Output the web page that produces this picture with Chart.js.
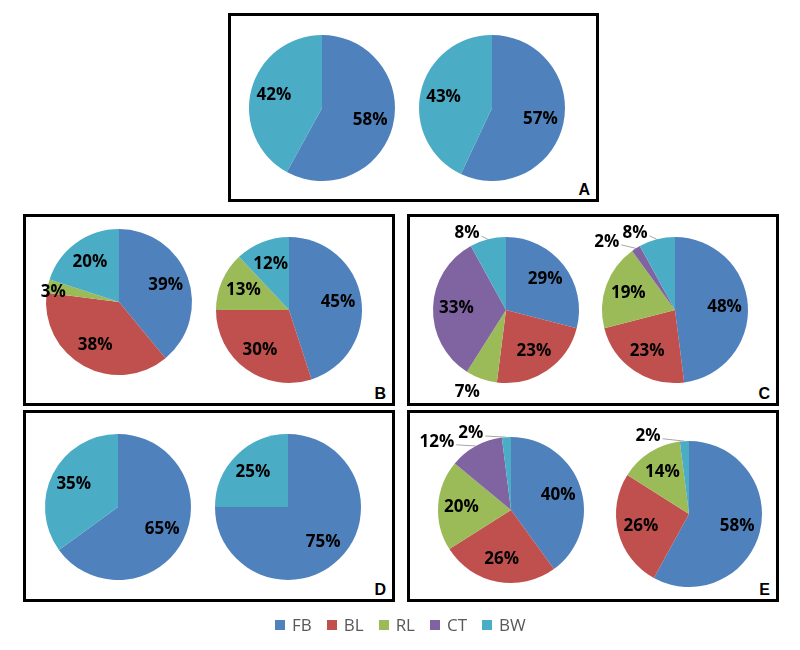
<!DOCTYPE html>
<html>
<head>
<meta charset="utf-8">
<script src="https://cdn.jsdelivr.net/npm/chart.js@4.4.1/dist/chart.umd.min.js"></script>
<style>
  body { margin: 0; background: #fff; width: 800px; height: 650px; position: relative; overflow: hidden; font-family: "Open Sans", sans-serif; }
  .box { position: absolute; border: 3px solid #000; box-sizing: border-box; }
  .letter { position: absolute; right: 6px; bottom: 0px; font: bold 16px "Liberation Sans", Arial, sans-serif; color: #000; }
  .pie { position: absolute; width: 200px; height: 190px; }
  #legend { position: absolute; left: 275px; top: 613px; display: flex; align-items: center; font-size: 17px; color: #595959; }
  #legend span.sq { display: inline-block; width: 10px; height: 10px; margin-right: 7px; }
  #legend .item { display: flex; align-items: center; margin-right: 15px; }
</style>
</head>
<body>

<script>
// categories, clockwise from 12 o'clock
const categories = ['FB', 'BL', 'RL', 'CT', 'BW'];
const colors = ['#4F81BD', '#C0504D', '#9BBB59', '#8064A2', '#4BACC6'];

// percentages per pie (FB, BL, RL, CT, BW)
const A1 = [58, 0, 0, 0, 42];
const A2 = [57, 0, 0, 0, 43];
const B1 = [39, 38, 3, 0, 20];
const B2 = [45, 30, 13, 0, 12];
const C1 = [29, 23, 7, 33, 8];
const C2 = [48, 23, 19, 2, 8];
const D1 = [65, 0, 0, 0, 35];
const D2 = [75, 0, 0, 0, 25];
const E1 = [40, 26, 20, 12, 2];
const E2 = [58, 26, 14, 0, 2];

// label placement tweaks: slice index -> [radius factor, angle shift deg, leader line]
const labelPlace = {
  B1: { 2: [0.91, -4, false] },
  C1: { 2: [1.24, 5.6, false], 4: [1.18, -12.5, true] },
  C2: { 3: [1.32, -12.6, true], 4: [1.19, -13, true] },
  E1: { 3: [1.38, -18.6, true], 4: [1.19, -24, true] },
  E2: { 4: [1.21, -24, true] }
};

// boxes and pie centres on the page
const boxes = [
  ['A', 228, 13, 371, 189],
  ['B', 23, 214, 372, 192],
  ['C', 407, 214, 372, 192],
  ['D', 23, 410, 372, 192],
  ['E', 407, 410, 372, 192]
];
const pies = [
  ['A1', A1, 322, 108], ['A2', A2, 492, 108],
  ['B1', B1, 119, 302], ['B2', B2, 289, 310],
  ['C1', C1, 506, 310], ['C2', C2, 675, 310],
  ['D1', D1, 118, 507], ['D2', D2, 288, 507],
  ['E1', E1, 511, 510], ['E2', E2, 689, 514]
];

const pctLabels = {
  id: 'pctLabels',
  afterDatasetsDraw(chart) {
    const ctx = chart.ctx;
    const meta = chart.getDatasetMeta(0);
    const vals = chart.data.datasets[0].data;
    const place = chart.options.plugins.pctLabels.place || {};
    ctx.save();
    ctx.font = 'bold 17px "Open Sans"';
    ctx.textAlign = 'center';
    ctx.textBaseline = 'middle';
    meta.data.forEach((arc, i) => {
      if (!vals[i]) return;
      const p = arc.getProps(['x', 'y', 'startAngle', 'endAngle', 'outerRadius'], true);
      const mid = (p.startAngle + p.endAngle) / 2;
      let f = 0.68, shift = 0, line = false;
      if (place[i]) [f, shift, line] = place[i];
      const a = mid + shift * Math.PI / 180;
      const lx = p.x + Math.cos(a) * p.outerRadius * f;
      const ly = p.y + Math.sin(a) * p.outerRadius * f;
      const text = vals[i] + '%';
      if (line) {
        const w = ctx.measureText(text).width;
        ctx.strokeStyle = '#a6a6a6';
        ctx.lineWidth = 1;
        ctx.beginPath();
        ctx.moveTo(lx + w / 2 + 2, ly + 3);
        ctx.lineTo(p.x + Math.cos(mid) * p.outerRadius, p.y + Math.sin(mid) * p.outerRadius);
        ctx.stroke();
      }
      ctx.fillStyle = '#000';
      ctx.fillText(text, lx, ly);
    });
    ctx.restore();
  }
};

boxes.forEach(b => {
  const d = document.createElement('div');
  d.className = 'box';
  d.style.left = b[1] + 'px'; d.style.top = b[2] + 'px';
  d.style.width = b[3] + 'px'; d.style.height = b[4] + 'px';
  d.innerHTML = '<span class="letter">' + b[0] + '</span>';
  document.body.appendChild(d);
});

pies.forEach(p => {
  const wrap = document.createElement('div');
  wrap.className = 'pie';
  wrap.style.left = (p[2] - 100) + 'px';
  wrap.style.top = (p[3] - 95) + 'px';
  const cv = document.createElement('canvas');
  wrap.appendChild(cv);
  document.body.appendChild(wrap);
  new Chart(cv, {
    type: 'pie',
    data: {
      labels: categories,
      datasets: [{ data: p[1], backgroundColor: colors, borderWidth: 0 }]
    },
    options: {
      responsive: true,
      maintainAspectRatio: false,
      animation: false,
      radius: 73,
      layout: { padding: 0 },
      events: [],
      plugins: {
        legend: { display: false },
        tooltip: { enabled: false },
        pctLabels: { place: labelPlace[p[0]] }
      }
    },
    plugins: [pctLabels]
  });
});

// legend
const lg = document.createElement('div');
lg.id = 'legend';
categories.forEach((c, i) => {
  const it = document.createElement('div');
  it.className = 'item';
  it.innerHTML = '<span class="sq" style="background:' + colors[i] + '"></span>' + c;
  lg.appendChild(it);
});
document.body.appendChild(lg);
</script>
</body>
</html>
